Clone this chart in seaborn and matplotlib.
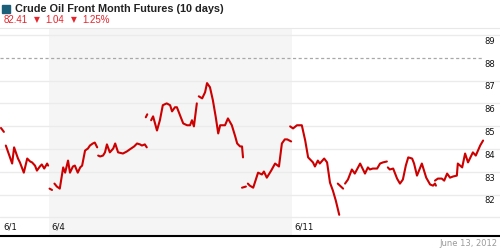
import numpy as np
import pandas as pd
import matplotlib
matplotlib.use("Agg")
import matplotlib.pyplot as plt
import matplotlib.transforms as mtransforms
from matplotlib.patches import Rectangle
import seaborn as sns

nan = np.nan
# time in trading days since start of the window; nan marks a session break
times = [0.02, 0.08, nan,
         0.12, 0.25, 0.29, 0.37, 0.41, 0.49, 0.56, 0.62, 0.66, 0.72, 0.76, 0.82, 0.86, 0.91, 0.97, 0.99, nan,
         1.02, 1.07, nan,
         1.12, 1.17, 1.23, 1.30, 1.34, 1.40, 1.44, 1.50, 1.54, 1.60, 1.65, 1.69, 1.75, 1.81, 1.85, 1.91, 1.95, 2.00, nan,
         2.02, 2.06, 2.12, 2.16, 2.20, 2.26, 2.33, 2.37, 2.43, 2.53, 2.61, 2.67, 2.76, 2.82, 2.88, 2.92, 2.98, 3.02, nan,
         3.00, 3.03, nan,
         3.11, 3.15, 3.23, 3.29, 3.35, 3.43, 3.50, 3.54, 3.60, 3.64, 3.72, 3.77, 3.85, 3.91, 3.95, 3.99, 4.05, nan,
         4.09, 4.16, 4.22, 4.26, 4.32, 4.38, 4.44, 4.49, 4.53, 4.63, 4.69, 4.77, 4.84, 4.88, 4.94, 4.98, 5.00, nan,
         4.98, 5.06, nan,
         5.10, 5.14, 5.21, 5.31, 5.39, 5.43, 5.49, 5.58, 5.66, 5.74, 5.80, 5.86, 5.91, 5.99, nan,
         5.97, 6.03, 6.11, 6.21, 6.28, 6.34, 6.44, 6.48, 6.54, 6.58, 6.67, 6.73, 6.79, 6.85, 6.91, 6.98, nan,
         6.95, 7.06, nan,
         7.10, 7.16, 7.24, 7.30, 7.41, 7.51, 7.57, 7.61, 7.67, 7.76, 7.82, 7.88, 7.96, nan,
         7.98, 8.02, 8.09, 8.17, 8.23, 8.29, 8.35, 8.40, 8.48, 8.52, 8.58, 8.68, 8.77, 8.85, 8.91, 8.95, 8.97, nan,
         8.95, 9.01, 9.09, 9.14, 9.20, 9.26, 9.32, 9.40, 9.42, 9.51, 9.57, 9.63, 9.73, 9.79, 9.88, 9.94]
prices = [84.92, 84.75, nan,
          84.15, 83.36, 84.07, 83.58, 83.41, 82.96, 83.58, 83.45, 83.41, 83.27, 83.05, 83.23, 83.32, 83.14, 83.36, 83.27, nan,
          82.26, 82.20, nan,
          82.48, 82.35, 82.26, 83.19, 82.96, 83.49, 82.96, 83.23, 83.27, 82.96, 83.19, 83.27, 83.93, 84.02, 84.15, 84.24, 84.28, 84.07, nan,
          83.71, 83.67, 83.71, 83.85, 84.20, 83.85, 84.02, 84.24, 83.85, 83.80, 83.89, 83.98, 84.11, 84.24, 84.20, 84.15, 84.20, 84.07, nan,
          85.39, 85.52, nan,
          85.26, 85.43, 84.81, 85.26, 85.92, 86.00, 85.92, 85.65, 85.83, 85.83, 85.39, 85.12, 85.04, 85.04, 85.26, 84.99, 86.00, nan,
          86.31, 86.22, 86.49, 86.89, 86.71, 86.14, 85.39, 84.68, 85.04, 85.04, 85.34, 85.04, 84.55, 84.24, 84.11, 84.11, 83.63, nan,
          82.30, 82.35, nan,
          82.48, 82.39, 82.30, 82.96, 82.88, 83.01, 82.74, 83.05, 83.36, 83.23, 84.24, 84.42, 84.42, 84.33, nan,
          84.99, 84.90, 85.04, 85.04, 84.37, 83.63, 83.41, 83.23, 83.49, 83.36, 83.58, 83.41, 82.52, 82.17, 81.73, 81.11, nan,
          82.48, 82.26, nan,
          82.48, 82.66, 83.10, 82.92, 83.36, 82.92, 83.19, 83.10, 83.14, 83.14, 83.36, 83.41, 83.45, nan,
          83.19, 83.10, 83.14, 82.70, 82.48, 82.66, 83.27, 83.63, 83.58, 83.36, 82.83, 83.36, 82.74, 82.44, 82.39, 82.48, 82.39, nan,
          82.61, 82.70, 82.70, 82.61, 82.92, 82.74, 82.79, 82.83, 83.36, 83.19, 83.80, 83.41, 83.85, 83.71, 84.15, 84.37]

date_labels = ["6/1", "6/4", "6/11"]
date_positions = [0.0, 1.0, 6.0]
shade_week = (1.0, 6.0)
ref_level = 88.0
y_ticks = [82, 83, 84, 85, 86, 87, 88, 89]
grid_levels = [81, 82, 83, 84, 85, 86, 87, 89]

title = "Crude Oil Front Month Futures (10 days)"
last_price = "82.41"
change = "1.04"
change_pct = "1.25%"
as_of = "June 13, 2012"

# ---- build frame with session ids ----
t = np.array(times, dtype=float)
p = np.array(prices, dtype=float)
session = np.cumsum(np.isnan(t))
df = pd.DataFrame({"t": t, "price": p, "session": session}).dropna()

sns.set_style("white")
plt.rcParams["font.family"] = ["Liberation Sans", "DejaVu Sans"]

W, H = 500, 250
fig = plt.figure(figsize=(5, 2.5), dpi=100)
top_px, bot_px = 27.5, 236
ax = fig.add_axes([0, 1 - bot_px / H, 1, (bot_px - top_px) / H])

x_max = 500 / 48.6
ax.set_xlim(0, x_max)
ax.set_ylim(80.18, 89.33)

ax.axvspan(*shade_week, color="#f5f5f5", zorder=0, lw=0)
for g in grid_levels:
    ax.axhline(g, color="#ebebeb", lw=1.0, zorder=1)
ax.plot([0, 9.92], [ref_level, ref_level], color="#a8a8a8", lw=0.9,
        dashes=(2.5, 2), zorder=2)

sns.lineplot(data=df, x="t", y="price", units="session", estimator=None,
             sort=False, color="#cc0000", lw=1.5, ax=ax, zorder=3)

ax.set_xticks([])
ax.set_yticks([])
ax.set_xlabel("")
ax.set_ylabel("")
for s in ["left", "right"]:
    ax.spines[s].set_visible(False)
ax.spines["top"].set_color("#e8e8e8")
ax.spines["top"].set_linewidth(0.8)
ax.spines["bottom"].set_color("black")
ax.spines["bottom"].set_linewidth(1.5)

ytrans = mtransforms.blended_transform_factory(ax.transAxes, ax.transData)
for v in y_ticks:
    ax.text(484 / W, v - 0.08, str(v), transform=ytrans, ha="left", va="top",
            fontsize=6, color="#111111", family=["DejaVu Sans"])

xtrans = mtransforms.blended_transform_factory(ax.transData, ax.transAxes)
lab_y = 1 - (227 - top_px) / (bot_px - top_px)
for lab, pos in zip(date_labels, date_positions):
    ax.text(pos + 0.06, lab_y, lab, transform=xtrans, ha="left", va="center",
            fontsize=6.2, color="#111111", family=["DejaVu Sans"])

# header
fig.patches.append(Rectangle((2 / W, 1 - 13 / H), 8 / W, 8 / H,
                             transform=fig.transFigure, color="#1c5f78"))
fig.text(15 / W, 1 - 9 / H, title, ha="left", va="center", fontsize=7.85,
         fontweight="bold", color="#222222")
red = "#e8232b"
yl = 1 - 20 / H
fig.text(4 / W, yl, last_price, ha="left", va="center", fontsize=7, color=red)
fig.text(34 / W, yl, "\u25bc", ha="left", va="center", fontsize=5.5, color=red,
         family=["DejaVu Sans"])
fig.text(45 / W, yl, change, ha="left", va="center", fontsize=7, color=red)
fig.text(71 / W, yl, "\u25bc", ha="left", va="center", fontsize=5.5, color=red,
         family=["DejaVu Sans"])
fig.text(82 / W, yl, change_pct, ha="left", va="center", fontsize=7, color=red)

fig.text(497 / W, 1 - 243 / H, as_of, ha="right", va="center", fontsize=6,
         color="#9a9a9a", family=["DejaVu Sans"])

fig.savefig("out.png", dpi=100)
